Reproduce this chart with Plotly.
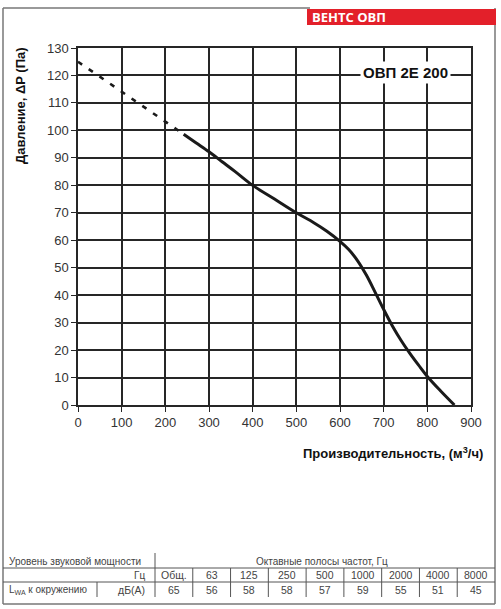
import plotly.graph_objects as go

# ---- data ----
dash_x = [0, 50, 100, 150, 200, 242]
dash_y = [125, 119.5, 114, 108.6, 103.2, 98.6]
curve_x = [242, 270, 300, 330, 360, 400, 450, 500, 540, 570, 600, 620, 640, 660, 680, 700, 720, 740, 760, 780, 800, 830, 862]
curve_y = [98.6, 95.5, 92.2, 88.6, 85, 80, 75, 70, 66.4, 63.3, 59.6, 56.6, 52.6, 47.4, 41.2, 34.8, 28.8, 23.5, 18.8, 14.5, 10.4, 5.2, 0]
x_ticks = [0, 100, 200, 300, 400, 500, 600, 700, 800, 900]
y_ticks = [0, 10, 20, 30, 40, 50, 60, 70, 80, 90, 100, 110, 120, 130]
bands = ["Общ.", "63", "125", "250", "500", "1000", "2000", "4000", "8000"]
lwa = ["65", "56", "58", "58", "57", "59", "55", "51", "45"]

W, H = 501, 609
L, R, T, B = 78, 471, 48, 405


def px(x):
    return (x - L) / (R - L)


def py(y):
    return (B - y) / (B - T)


fig = go.Figure()
fig.add_trace(go.Scatter(x=dash_x, y=dash_y, mode="lines",
                         line=dict(color="#1a1a1a", width=2.6, dash="5px,8px"),
                         showlegend=False, hoverinfo="skip"))
fig.add_trace(go.Scatter(x=curve_x, y=curve_y, mode="lines",
                         line=dict(color="#1a1a1a", width=3, shape="spline", smoothing=1.0),
                         showlegend=False, hoverinfo="skip"))

axis_common = dict(showgrid=True, gridcolor="#262626", gridwidth=1.5,
                   showline=True, linecolor="#262626", linewidth=1.5, mirror=True,
                   ticks="outside", ticklen=5, tickcolor="#262626", tickwidth=1.2,
                   zeroline=False,
                   tickfont=dict(family="Liberation Sans, Arial", size=13, color="#333"))
fig.update_xaxes(range=[0, 900], tickvals=x_ticks, **axis_common)
fig.update_yaxes(range=[0, 130], tickvals=y_ticks, **axis_common)

shapes = []
anns = []
frame_col = "#777"
# outer frame
shapes.append(dict(type="line", xref="paper", yref="paper", x0=px(3), y0=py(8), x1=px(310), y1=py(8), line=dict(color=frame_col, width=1.5)))
shapes.append(dict(type="line", xref="paper", yref="paper", x0=px(3), y0=py(8), x1=px(3), y1=py(604), line=dict(color=frame_col, width=1.5)))
shapes.append(dict(type="line", xref="paper", yref="paper", x0=px(3), y0=py(604), x1=px(495), y1=py(604), line=dict(color=frame_col, width=1.5)))
shapes.append(dict(type="line", xref="paper", yref="paper", x0=px(495), y0=py(8), x1=px(495), y1=py(604), line=dict(color=frame_col, width=1.5)))
# red header bar
shapes.append(dict(type="rect", xref="paper", yref="paper", x0=px(307), y0=py(25), x1=px(496), y1=py(9), fillcolor="#e3202a", line=dict(width=0)))
anns.append(dict(xref="paper", yref="paper", x=px(310), y=py(17), text="<b>ВЕНТС ОВП</b>", showarrow=False, xanchor="left", yanchor="middle",
                 font=dict(family="Open Sans, Liberation Sans", size=13, color="white")))
# model label
anns.append(dict(xref="paper", yref="paper", x=px(405), y=py(72), text="<b>ОВП 2E 200</b>", showarrow=False, xanchor="center", yanchor="middle",
                 bgcolor="white", borderpad=2,
                 font=dict(family="Liberation Sans, Arial", size=15, color="#111")))
# axis titles
anns.append(dict(xref="paper", yref="paper", x=px(20), y=py(106), text="<b>Давление, ΔP (Па)</b>", showarrow=False, textangle=-90,
                 xanchor="center", yanchor="middle", font=dict(family="Liberation Sans, Arial", size=13, color="#111")))
anns.append(dict(xref="paper", yref="paper", x=px(485), y=py(453), text="<b>Производительность, (м<sup>3</sup>/ч)</b>", showarrow=False,
                 xanchor="right", yanchor="middle", font=dict(family="Liberation Sans, Arial", size=13, color="#111")))

# table
tcol = "#555"
tfont = dict(family="Liberation Sans, Arial", size=10, color="#444")
nfont = dict(family="Liberation Sans, Arial", size=10.5, color="#444")
shapes.append(dict(type="line", xref="paper", yref="paper", x0=px(155), y0=py(553), x1=px(155), y1=py(597), line=dict(color=tcol, width=1)))
shapes.append(dict(type="line", xref="paper", yref="paper", x0=px(3), y0=py(568), x1=px(495), y1=py(568), line=dict(color=tcol, width=1)))
shapes.append(dict(type="line", xref="paper", yref="paper", x0=px(3), y0=py(582), x1=px(495), y1=py(582), line=dict(color=tcol, width=1)))
shapes.append(dict(type="line", xref="paper", yref="paper", x0=px(97), y0=py(582), x1=px(97), y1=py(597), line=dict(color=tcol, width=1)))
anns.append(dict(xref="paper", yref="paper", x=px(7), y=py(561), text="Уровень звуковой мощности", showarrow=False, xanchor="left", yanchor="middle", font=tfont))
anns.append(dict(xref="paper", yref="paper", x=px(322), y=py(561), text="Октавные полосы частот, Гц", showarrow=False, xanchor="center", yanchor="middle", font=tfont))
anns.append(dict(xref="paper", yref="paper", x=px(147), y=py(575), text="Гц", showarrow=False, xanchor="right", yanchor="middle", font=tfont))
anns.append(dict(xref="paper", yref="paper", x=px(7), y=py(590), text="L<sub>WA</sub> к окружению", showarrow=False, xanchor="left", yanchor="middle", font=tfont))
anns.append(dict(xref="paper", yref="paper", x=px(147), y=py(590), text="дБ(А)", showarrow=False, xanchor="right", yanchor="middle", font=nfont))
cw = (495 - 155) / len(bands)
for i, (b, v) in enumerate(zip(bands, lwa)):
    x0 = 155 + i * cw
    if i > 0:
        shapes.append(dict(type="line", xref="paper", yref="paper", x0=px(x0), y0=py(568), x1=px(x0), y1=py(597), line=dict(color=tcol, width=1)))
    anns.append(dict(xref="paper", yref="paper", x=px(x0 + cw / 2), y=py(575), text=b, showarrow=False, xanchor="center", yanchor="middle", font=nfont))
    anns.append(dict(xref="paper", yref="paper", x=px(x0 + cw / 2), y=py(590), text=v, showarrow=False, xanchor="center", yanchor="middle", font=nfont))

fig.update_layout(width=W, height=H, margin=dict(l=L, r=W - R, t=T, b=H - B, autoexpand=False),
                  plot_bgcolor="white", paper_bgcolor="white",
                  shapes=shapes, annotations=anns)

fig.write_html("out.html")
